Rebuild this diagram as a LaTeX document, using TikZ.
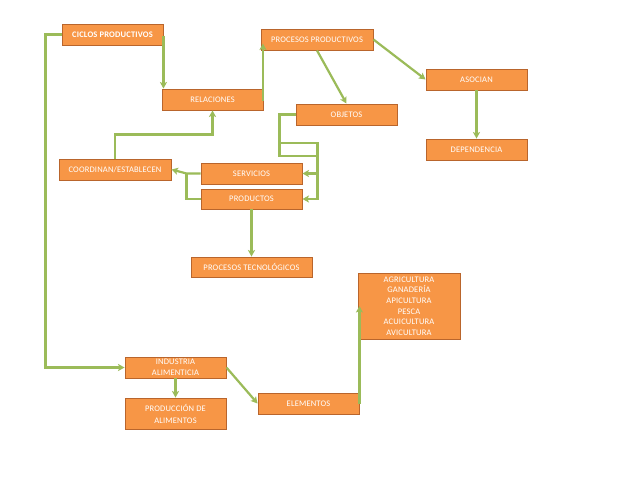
\documentclass[tikz,border=0pt]{standalone}
\usepackage{fontspec}
\setmainfont{Carlito}[LetterSpace=2]
\usetikzlibrary{arrows.meta,calc}
\definecolor{boxfill}{HTML}{F79646}
\definecolor{boxline}{HTML}{B9652C}
\definecolor{conngreen}{HTML}{9BBB59}
\tikzset{
  box/.style={draw=boxline, line width=0.9pt, fill=boxfill, text=white, inner sep=0pt,
    font=\fontsize{8.5}{11}\selectfont, align=center},
  conn/.style={draw=conngreen, line width=2.2pt, -{Stealth[length=6.5pt,width=7pt,inset=1.5pt]}},
  link/.style={draw=conngreen, line width=2.2pt}
}
\begin{document}
\begin{tikzpicture}[x=1pt,y=-1pt]
\fill[white] (0,0) rectangle (638,479);
\useasboundingbox (0,0) rectangle (638,479);
\node[box, minimum width=101, minimum height=21, font=\fontsize{8.5}{11}\selectfont\bfseries] (ciclos) at (112.5,34.5) {CICLOS PRODUCTIVOS};
\node[box, minimum width=101, minimum height=21] (rel) at (212.5,99.5) {RELACIONES};
\node[box, minimum width=112, minimum height=21] (proc) at (317,39.5) {PROCESOS PRODUCTIVOS};
\node[box, minimum width=101, minimum height=21] (asoc) at (476.5,79.5) {ASOCIAN};
\node[box, minimum width=101, minimum height=21] (obj) at (346.5,114.5) {OBJETOS};
\node[box, minimum width=101, minimum height=21] (dep) at (476.5,149.5) {DEPENDENCIA};
\node[box, minimum width=112, minimum height=21] (coord) at (115,169.5) {COORDINAN/ESTABLECEN};
\node[box, minimum width=101, minimum height=21] (serv) at (251.5,173.5) {SERVICIOS};
\node[box, minimum width=101, minimum height=20] (prod) at (251.5,199) {PRODUCTOS};
\node[box, minimum width=121, minimum height=20] (tec) at (251.5,267) {PROCESOS TECNOLÓGICOS};
\node[box, minimum width=102, minimum height=66, font=\fontsize{8.5}{10.6}\selectfont] (agri) at (409,306) {AGRICULTURA\\GANADERÍA\\APICULTURA\\PESCA\\ACUICULTURA\\AVICULTURA};
\node[box, minimum width=101, minimum height=21, font=\fontsize{8.5}{11}\selectfont] (ind) at (175.5,367.5) {INDUSTRIA\\ALIMENTICIA};
\node[box, minimum width=101, minimum height=31, font=\fontsize{8.5}{12}\selectfont] (pda) at (175.5,413.5) {PRODUCCIÓN DE\\ALIMENTOS};
\node[box, minimum width=101, minimum height=21] (elem) at (308.5,403.5) {ELEMENTOS};

\coordinate (ja) at ($(obj.west)+(-16,0)$);
\coordinate (jb) at ($(ja)+(0,28.5)$);
\coordinate (jc) at ($(ja)+(0,41.5)$);
\coordinate (kb) at ($(jb)+(38,0)$);
\coordinate (kc) at ($(jc)+(38,0)$);
\coordinate (sv) at ($(serv.west)+(-14,0)$);
\coordinate (rr) at ($(rel.south)+(0,24)$);
\coordinate (rp) at ($(rel.east)+(-0.5,1)$);

\draw[conn] (ciclos.west) -- ++(-16,0) |- (ind.west);
\draw[conn] ($(ciclos.east)+(0,1)$) -- (ciclos.east |- rel.north);
\draw[conn] (rp) -- ($(rp)+(0,-57)$);
\draw[conn] (proc.east) -- (asoc.west);
\draw[conn] (proc.south) -- (obj.north);
\draw[conn] (asoc.south) -- (dep.north);
\draw[conn] (obj.west) -- (ja) -- (jb) -- (kb) |- (serv.east);
\draw[conn] (obj.west) -- (ja) -- (jc) -- (kc) |- (prod.east);
\draw[conn] (serv.west) -- (sv) -- (coord.east);
\draw[link] (prod.west) -| (sv);
\draw[conn] (coord.north) |- (rr) -- (rel.south);
\draw[conn] (prod.south) -- (tec.north);
\draw[conn] (ind.south) -- (pda.north);
\draw[conn] (ind.east) -- (elem.west);
\draw[conn] (elem.east) -- (elem.east |- agri.west);
\end{tikzpicture}
\end{document}
